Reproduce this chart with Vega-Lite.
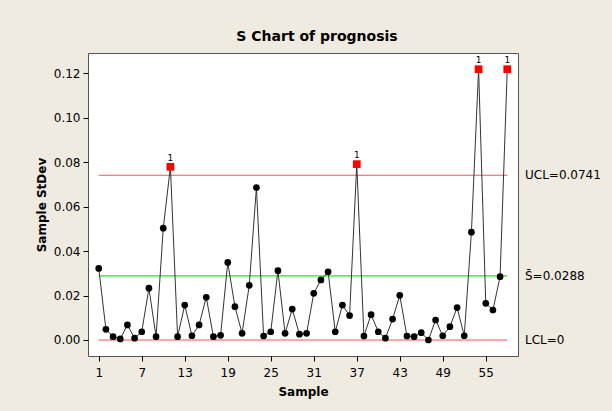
{
  "$schema": "https://vega.github.io/schema/vega-lite/v6.json",
  "autosize": {"type": "none"},
  "width": 430,
  "height": 303,
  "padding": {"left": 88, "top": 53, "right": 94, "bottom": 55},
  "background": "#EFEBE1",
  "title": {"text": "S Chart of prognosis", "font": "DejaVu Sans", "fontSize": 14, "fontWeight": "bold", "color": "#000000", "offset": 9, "dx": 14},
  "config": {
    "view": {"fill": "white", "stroke": "#555555", "strokeWidth": 1},
    "axis": {"labelFont": "DejaVu Sans", "labelFontSize": 12, "labelColor": "#000000", "titleFont": "DejaVu Sans", "titleFontSize": 12, "titleFontWeight": "bold", "titleColor": "#000000", "tickColor": "#000000", "domain": false, "grid": false}
  },
  "datasets": {
    "s": [
      {"sample": 1, "stdev": 0.0322}, {"sample": 2, "stdev": 0.0048}, {"sample": 3, "stdev": 0.0015}, {"sample": 4, "stdev": 0.0005},
      {"sample": 5, "stdev": 0.0068}, {"sample": 6, "stdev": 0.0008}, {"sample": 7, "stdev": 0.0037}, {"sample": 8, "stdev": 0.0233},
      {"sample": 9, "stdev": 0.0015}, {"sample": 10, "stdev": 0.0503}, {"sample": 11, "stdev": 0.0779}, {"sample": 12, "stdev": 0.0015},
      {"sample": 13, "stdev": 0.0157}, {"sample": 14, "stdev": 0.0019}, {"sample": 15, "stdev": 0.0068}, {"sample": 16, "stdev": 0.0192},
      {"sample": 17, "stdev": 0.0015}, {"sample": 18, "stdev": 0.0021}, {"sample": 19, "stdev": 0.0349}, {"sample": 20, "stdev": 0.0150},
      {"sample": 21, "stdev": 0.0030}, {"sample": 22, "stdev": 0.0246}, {"sample": 23, "stdev": 0.0686}, {"sample": 24, "stdev": 0.0018},
      {"sample": 25, "stdev": 0.0037}, {"sample": 26, "stdev": 0.0312}, {"sample": 27, "stdev": 0.0030}, {"sample": 28, "stdev": 0.0139},
      {"sample": 29, "stdev": 0.0026}, {"sample": 30, "stdev": 0.0030}, {"sample": 31, "stdev": 0.0210}, {"sample": 32, "stdev": 0.0270},
      {"sample": 33, "stdev": 0.0307}, {"sample": 34, "stdev": 0.0037}, {"sample": 35, "stdev": 0.0157}, {"sample": 36, "stdev": 0.0110},
      {"sample": 37, "stdev": 0.0791}, {"sample": 38, "stdev": 0.0018}, {"sample": 39, "stdev": 0.0114}, {"sample": 40, "stdev": 0.0037},
      {"sample": 41, "stdev": 0.0008}, {"sample": 42, "stdev": 0.0094}, {"sample": 43, "stdev": 0.0201}, {"sample": 44, "stdev": 0.0018},
      {"sample": 45, "stdev": 0.0015}, {"sample": 46, "stdev": 0.0033}, {"sample": 47, "stdev": 0.0000}, {"sample": 48, "stdev": 0.0090},
      {"sample": 49, "stdev": 0.0019}, {"sample": 50, "stdev": 0.0060}, {"sample": 51, "stdev": 0.0146}, {"sample": 52, "stdev": 0.0019},
      {"sample": 53, "stdev": 0.0485}, {"sample": 54, "stdev": 0.1218}, {"sample": 55, "stdev": 0.0165}, {"sample": 56, "stdev": 0.0135},
      {"sample": 57, "stdev": 0.0285}, {"sample": 58, "stdev": 0.1218}
    ],
    "limits": [
      {"name": "UCL", "label": "UCL=0.0741", "value": 0.0741, "start": 1, "end": 58},
      {"name": "CL", "label": "S̄=0.0288", "value": 0.0288, "start": 1, "end": 58},
      {"name": "LCL", "label": "LCL=0", "value": 0, "start": 1, "end": 58}
    ]
  },
  "layer": [
    {
      "data": {"name": "limits"},
      "mark": {"type": "rule", "strokeWidth": 1.2},
      "encoding": {
        "x": {"field": "start", "type": "quantitative", "scale": {"domain": [-0.5, 59.5], "nice": false, "zero": false}, "axis": {"values": [1, 7, 13, 19, 25, 31, 37, 43, 49, 55], "title": "Sample", "tickSize": 5, "labelPadding": 6, "titlePadding": 8}},
        "x2": {"field": "end"},
        "y": {"field": "value", "type": "quantitative", "scale": {"domain": [-0.0072, 0.1291], "nice": false, "zero": false}, "axis": {"values": [0, 0.02, 0.04, 0.06, 0.08, 0.1, 0.12], "format": ".2f", "title": "Sample StDev", "tickSize": 5, "labelPadding": 3, "titlePadding": 5}},
        "color": {"field": "name", "type": "nominal", "scale": {"domain": ["UCL", "CL", "LCL"], "range": ["#FF5050", "#33DD33", "#FF5050"]}, "legend": null}
      }
    },
    {
      "data": {"name": "limits"},
      "mark": {"type": "text", "align": "left", "baseline": "middle", "dx": 7, "font": "DejaVu Sans", "fontSize": 12, "color": "#000000"},
      "encoding": {
        "x": {"datum": 59.5, "type": "quantitative"},
        "y": {"field": "value", "type": "quantitative"},
        "text": {"field": "label"}
      }
    },
    {
      "data": {"name": "s"},
      "mark": {"type": "line", "color": "#333333", "strokeWidth": 1},
      "encoding": {
        "x": {"field": "sample", "type": "quantitative"},
        "y": {"field": "stdev", "type": "quantitative"}
      }
    },
    {
      "data": {"name": "s"},
      "transform": [{"filter": "datum.stdev <= 0.0741"}],
      "mark": {"type": "point", "shape": "circle", "filled": true, "color": "#000000", "size": 45, "opacity": 1},
      "encoding": {
        "x": {"field": "sample", "type": "quantitative"},
        "y": {"field": "stdev", "type": "quantitative"}
      }
    },
    {
      "data": {"name": "s"},
      "transform": [{"filter": "datum.stdev > 0.0741"}],
      "mark": {"type": "point", "shape": "square", "filled": true, "color": "#FF0000", "size": 60, "opacity": 1},
      "encoding": {
        "x": {"field": "sample", "type": "quantitative"},
        "y": {"field": "stdev", "type": "quantitative"}
      }
    },
    {
      "data": {"name": "s"},
      "transform": [{"filter": "datum.stdev > 0.0741"}],
      "mark": {"type": "text", "text": "1", "baseline": "bottom", "dy": -4, "font": "DejaVu Sans", "fontSize": 9, "color": "#000000"},
      "encoding": {
        "x": {"field": "sample", "type": "quantitative"},
        "y": {"field": "stdev", "type": "quantitative"}
      }
    }
  ]
}
